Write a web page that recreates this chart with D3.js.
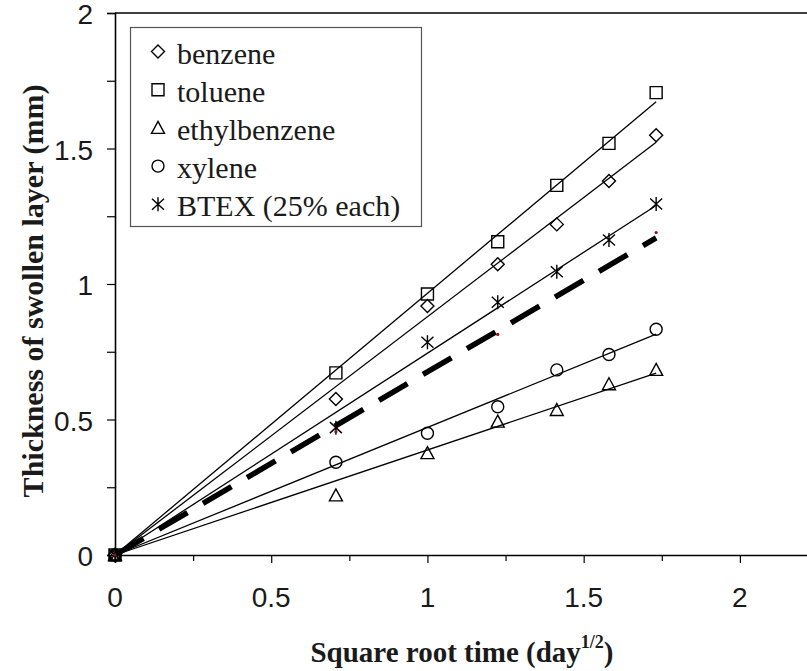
<!DOCTYPE html>
<html>
<head>
<meta charset="utf-8">
<script src="https://cdn.jsdelivr.net/npm/d3@7/dist/d3.min.js"></script>
<style>
  html, body { margin: 0; padding: 0; background: #fff; }
  svg { display: block; }
</style>
</head>
<body>
<svg id="chart" width="807" height="671"></svg>
<script>
// Square root of immersion time (day^1/2)
const sqrtTime = [0, 0.707, 1, 1.225, 1.414, 1.581, 1.732];

// Measured swollen-layer thickness (mm)
const benzene      = [0, 0.576, 0.919, 1.073, 1.220, 1.380, 1.549];
const toluene      = [0, 0.672, 0.963, 1.156, 1.364, 1.519, 1.706];
const ethylbenzene = [0, 0.220, 0.376, 0.492, 0.535, 0.630, 0.683];
const xylene       = [0, 0.342, 0.449, 0.547, 0.683, 0.740, 0.833];
const btex         = [0, 0.470, 0.785, 0.933, 1.045, 1.162, 1.295];

// Small model points plotted along the predicted mixture line
const modelX = [0, 0.707, 1.225, 1.732];
const modelY = [0, 0.455, 0.814, 1.190];

const seriesNames = ["benzene", "toluene", "ethylbenzene", "xylene", "BTEX (25% each)"];
const seriesSymbols = ["diamond", "square", "triangle", "circle", "star"];
const seriesValues = [benzene, toluene, ethylbenzene, xylene, btex];

const xTicks = [0, 0.5, 1, 1.5, 2];
const yTicks = [0, 0.5, 1, 1.5, 2];

const svg = d3.select("#chart");
const x = d3.scaleLinear().domain([0, 2.25]).range([115, 818]);
const y = d3.scaleLinear().domain([0, 2]).range([555, 13]);

// marker outlines, centred on (0,0)
function markerPath(kind) {
  const p = d3.path();
  if (kind === "diamond") {
    const r = 6.5;
    p.moveTo(0, -r); p.lineTo(r, 0); p.lineTo(0, r); p.lineTo(-r, 0); p.closePath();
  } else if (kind === "square") {
    const h = 6;
    p.rect(-h, -h, 2 * h, 2 * h);
  } else if (kind === "triangle") {
    p.moveTo(0, -6.5); p.lineTo(6.5, 5.5); p.lineTo(-6.5, 5.5); p.closePath();
  } else if (kind === "circle") {
    p.moveTo(6, 0); p.arc(0, 0, 6, 0, 2 * Math.PI);
  } else if (kind === "star") {
    p.moveTo(0, -7); p.lineTo(0, 7);
    p.moveTo(-6, -5.5); p.lineTo(6, 5.5);
    p.moveTo(-6, 5.5); p.lineTo(6, -5.5);
  }
  return p.toString();
}

// least-squares slope of a line forced through the origin
function originSlope(xs, ys) {
  const sxy = d3.sum(xs, (v, i) => v * ys[i]);
  const sxx = d3.sum(xs, v => v * v);
  return sxy / sxx;
}

const slopes = seriesValues.map(vals => originSlope(sqrtTime, vals));
// predicted mixture: mean of the four single-solvent fits
const mixSlope = d3.mean(slopes.slice(0, 4));
const xEnd = d3.max(sqrtTime);

// axes
const xAxis = d3.axisBottom(x)
  .tickValues(d3.range(0, 2.26, 0.25))
  .tickSize(8)
  .tickFormat("");
const gx = svg.append("g").attr("transform", `translate(0,${y(0)})`).call(xAxis);
gx.selectAll(".tick line").attr("y2", d => (Math.abs(d * 2 - Math.round(d * 2)) < 1e-6 ? 8 : 6));

const yAxis = d3.axisLeft(y)
  .tickValues(d3.range(0, 2.01, 0.25))
  .tickSize(8)
  .tickFormat("");
const gy = svg.append("g").attr("transform", `translate(${x(0)},0)`).call(yAxis);

[gx, gy].forEach(g => {
  g.select(".domain").attr("stroke", "#000").attr("stroke-width", 1.6);
  g.selectAll(".tick line").attr("stroke", "#000").attr("stroke-width", 1.2);
});

// top frame line
svg.append("line")
  .attr("x1", x(0)).attr("x2", x(2.25))
  .attr("y1", y(2)).attr("y2", y(2))
  .attr("stroke", "#000").attr("stroke-width", 1.6);

// tick labels
svg.append("g").selectAll("text").data(xTicks).join("text")
  .attr("x", d => x(d)).attr("y", 607)
  .attr("text-anchor", "middle")
  .attr("font-family", "Liberation Sans, Arial, sans-serif")
  .attr("font-size", 28).attr("fill", "#1a1a1a")
  .text(d => d3.format("")(d));

svg.append("g").selectAll("text").data(yTicks).join("text")
  .attr("x", 93).attr("y", d => y(d) + 11)
  .attr("text-anchor", "end")
  .attr("font-family", "Liberation Sans, Arial, sans-serif")
  .attr("font-size", 28).attr("fill", "#1a1a1a")
  .text(d => d3.format("")(d));

// fitted lines
const plot = svg.append("g");
slopes.forEach(s => {
  plot.append("line")
    .attr("x1", x(0)).attr("y1", y(0))
    .attr("x2", x(xEnd)).attr("y2", y(s * xEnd))
    .attr("stroke", "#000").attr("stroke-width", 1.3);
});

// predicted mixture line (dashed)
plot.append("line")
  .attr("x1", x(0)).attr("y1", y(0))
  .attr("x2", x(xEnd)).attr("y2", y(mixSlope * xEnd))
  .attr("stroke", "#000").attr("stroke-width", 5.5)
  .attr("stroke-dasharray", "33,18");

// measured points
seriesValues.forEach((vals, si) => {
  plot.append("g").selectAll("path").data(vals).join("path")
    .attr("transform", (d, i) => `translate(${x(sqrtTime[i])},${y(d)})`)
    .attr("d", markerPath(seriesSymbols[si]))
    .attr("fill", "none").attr("stroke", "#000").attr("stroke-width", 1.4);
});

plot.append("g").selectAll("circle").data(modelY).join("circle")
  .attr("cx", (d, i) => x(modelX[i])).attr("cy", d => y(d))
  .attr("r", 1.6).attr("fill", "#9b1010");

// legend
const lg = svg.append("g");
lg.append("rect")
  .attr("x", 130.5).attr("y", 27.5).attr("width", 291).attr("height", 199)
  .attr("fill", "#fff").attr("stroke", "#555").attr("stroke-width", 1.2);
seriesNames.forEach((name, i) => {
  const base = 63.5 + i * 38.2;
  lg.append("path")
    .attr("transform", `translate(158,${base - 12})`)
    .attr("d", markerPath(seriesSymbols[i]))
    .attr("fill", "none").attr("stroke", "#000").attr("stroke-width", 1.4);
  lg.append("text")
    .attr("x", 177).attr("y", base)
    .attr("font-family", "Liberation Serif, Times New Roman, serif")
    .attr("font-size", 30).attr("fill", "#1a1a1a")
    .text(name);
});

// axis titles
const xt = svg.append("text")
  .attr("x", 462).attr("y", 662)
  .attr("text-anchor", "middle")
  .attr("font-family", "Liberation Serif, Times New Roman, serif")
  .attr("font-weight", "bold").attr("font-size", 29).attr("fill", "#1a1a1a");
xt.append("tspan").text("Square root time (day");
xt.append("tspan").attr("font-size", 18).attr("dy", -14).text("1/2");
xt.append("tspan").attr("dy", 14).text(")");

svg.append("text")
  .attr("transform", "translate(43,291) rotate(-90)")
  .attr("text-anchor", "middle")
  .attr("font-family", "Liberation Serif, Times New Roman, serif")
  .attr("font-weight", "bold").attr("font-size", 30).attr("fill", "#1a1a1a")
  .text("Thickness of swollen layer (mm)");
</script>
</body>
</html>
